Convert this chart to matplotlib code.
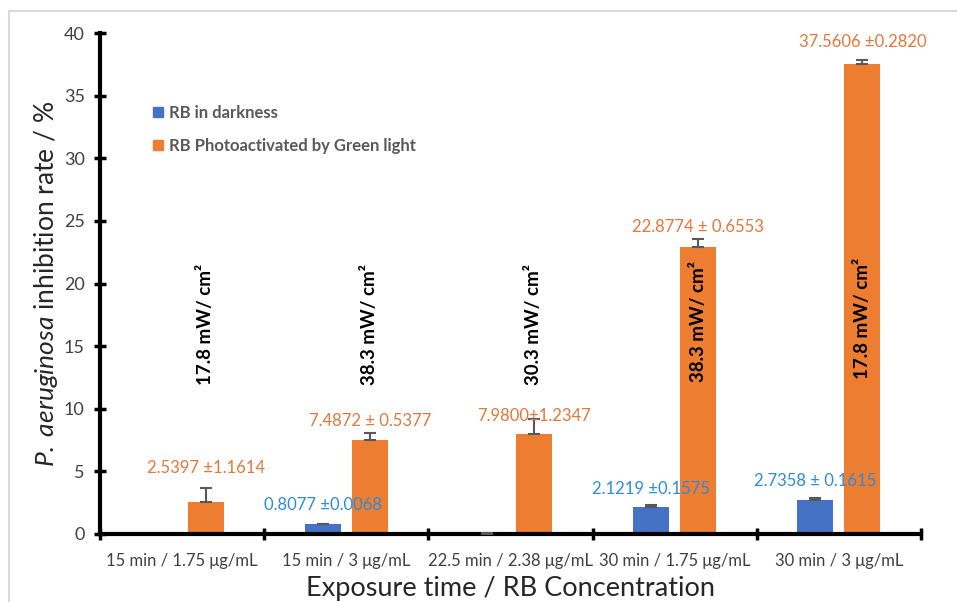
import matplotlib
matplotlib.use("Agg")
import matplotlib.pyplot as plt
import numpy as np
from matplotlib.patches import Rectangle, Patch

plt.rcParams['font.family'] = ['Lato', 'DejaVu Sans']
plt.rcParams['mathtext.fontset'] = 'custom'
plt.rcParams['mathtext.it'] = 'Lato:italic'
plt.rcParams['mathtext.rm'] = 'Lato'

categories = ["15 min / 1.75 μg/mL", "15 min / 3 μg/mL", "22.5 min / 2.38 μg/mL",
              "30 min / 1.75 μg/mL", "30 min / 3 μg/mL"]
dark_vals = [0.0, 0.8077, 0.02, 2.1219, 2.7358]
dark_err = [0.0, 0.0068, 0.03, 0.1575, 0.1615]
green_vals = [2.5397, 7.4872, 7.9800, 22.8774, 37.5606]
green_err = [1.1614, 0.5377, 1.2347, 0.6553, 0.2820]
dark_labels = [None, "0.8077 ±0.0068", None, "2.1219 ±0.1575", "2.7358 ± 0.1615"]
green_labels = ["2.5397 ±1.1614", "7.4872 ± 0.5377", "7.9800±1.2347", "22.8774 ± 0.6553", "37.5606 ±0.2820"]
dark_label_y = [None, 2.3, None, 3.6, 4.2]
green_label_y = [5.3, 9.0, 9.4, 24.5, 39.3]
irradiance = ["17.8 mW/ cm²", "38.3 mW/ cm²", "30.3 mW/ cm²", "38.3 mW/ cm²", "17.8 mW/ cm²"]
irr_y = [11.9, 11.9, 11.9, 12.1, 12.4]
legend_labels = ["RB in darkness", "RB Photoactivated by Green light"]

blue = "#4472C4"
orange = "#ED7D31"
blue_txt = "#2E8BDB"
orange_txt = "#E2773A"

W, H = 957, 602
fig = plt.figure(figsize=(W/100, H/100), dpi=100)
ax = fig.add_axes([100/W, 1-534/H, (921-100)/W, (534-33)/H])

x = np.arange(len(categories))
bw = 0.22
off = 0.143
ax.bar(x - off, dark_vals, bw, color=blue, zorder=2)
ax.bar(x + off, green_vals, bw, color=orange, zorder=2)

dmask = [i for i in range(len(x)) if dark_vals[i] > 0]
ax.errorbar(x[dmask] - off, np.array(dark_vals)[dmask],
            yerr=[np.zeros(len(dmask)), np.array(dark_err)[dmask]], fmt='none',
            ecolor="#595959", elinewidth=1.5, capsize=4, capthick=1.5, zorder=3)
ax.errorbar(x + off, green_vals, yerr=[np.zeros(len(x)), green_err], fmt='none',
            ecolor="#595959", elinewidth=1.5, capsize=4, capthick=1.5, zorder=3)

for i in range(len(x)):
    if dark_labels[i]:
        ax.text(x[i] - off, dark_label_y[i], dark_labels[i], color=blue_txt,
                ha='center', va='center', fontsize=12, zorder=4)
    ax.text(x[i] + off, green_label_y[i], green_labels[i], color=orange_txt,
            ha='center', va='center', fontsize=12, zorder=4)
    ax.text(x[i] + off, irr_y[i], irradiance[i], rotation=90, ha='center', va='bottom',
            fontsize=13.5, fontweight='bold', color='black', zorder=4)

ax.set_xlim(-0.5, 4.5)
ax.set_ylim(0, 40)
ax.set_yticks(np.arange(0, 41, 5))
ax.set_xticks(np.arange(-0.5, 4.6, 1.0))
ax.set_xticklabels([])
ax.set_xticks(x, minor=True)
ax.set_xticklabels(categories, minor=True)
ax.tick_params(axis='x', which='minor', length=0, pad=14, labelsize=12, labelcolor="#404040")
ax.tick_params(axis='x', which='major', direction='inout', length=9, width=2.5)
ax.tick_params(axis='y', direction='inout', length=9, width=2.5, labelsize=13,
               labelcolor="#404040", pad=6.5)

for s in ['top', 'right']:
    ax.spines[s].set_visible(False)
for s in ['left', 'bottom']:
    ax.spines[s].set_linewidth(3)

ax.set_xlabel("Exposure time / RB Concentration", fontsize=19.5, color="#262626")
ax.xaxis.set_label_coords(0.5, -0.083)
ax.set_ylabel(r"$\it{P.\;aeruginosa}$ inhibition rate / %", fontsize=19, color="#262626")
ax.yaxis.set_label_coords(-0.049, 0.5)

handles = [Patch(color=blue), Patch(color=orange)]
ax.legend(handles, legend_labels, loc='upper left', bbox_to_anchor=(138/W, 1-90/H),
          bbox_transform=fig.transFigure, frameon=False, handlelength=0.6,
          handleheight=0.6, handletextpad=0.35, labelspacing=1.0,
          prop={'weight': 'bold', 'size': 12}, labelcolor="#595959")

fig.patches.append(Rectangle((9/W, -0.1), 1.2, 1.1 - 11/H, transform=fig.transFigure,
                             fill=False, edgecolor="#D9D9D9", linewidth=1.5))

fig.savefig("out.png", dpi=100)
